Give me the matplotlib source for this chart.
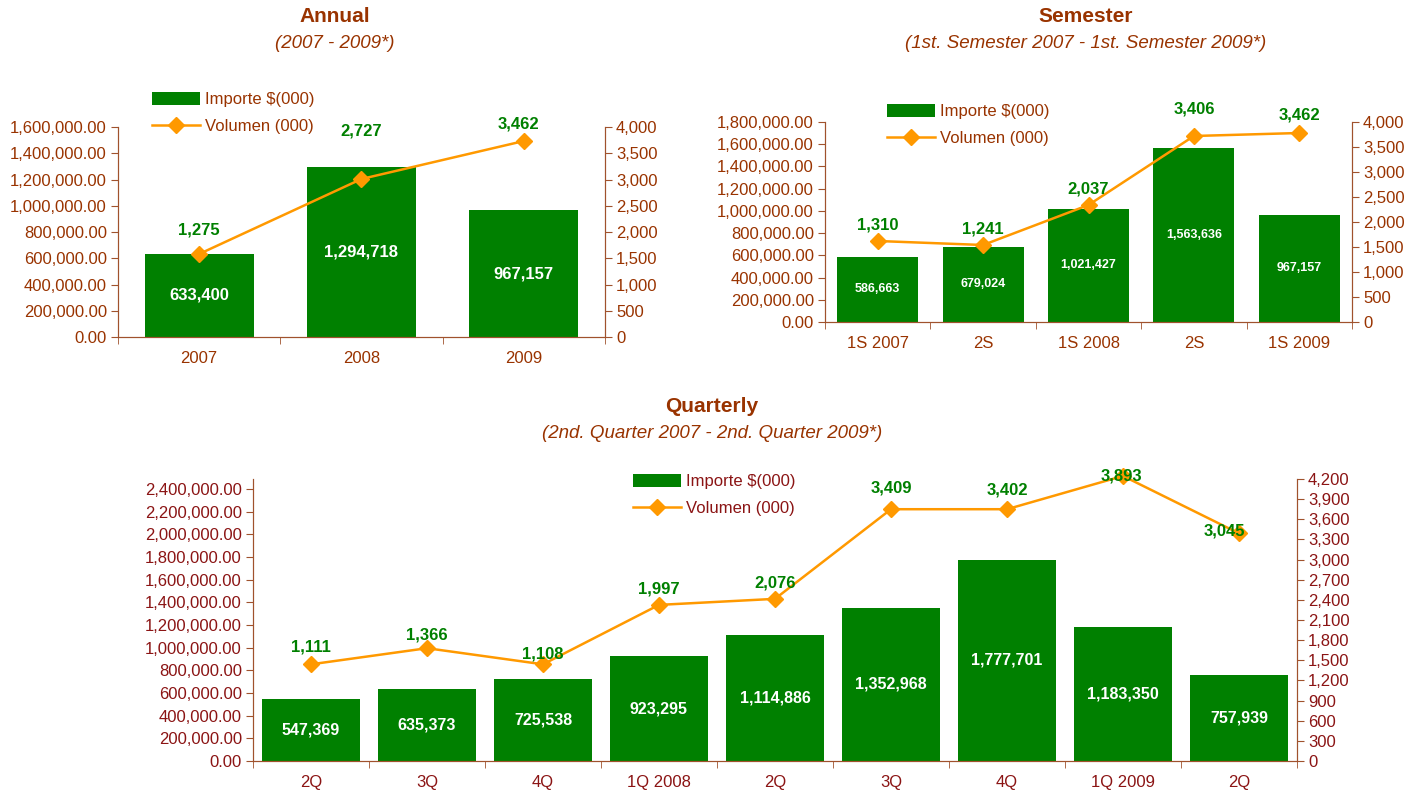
import matplotlib
matplotlib.use("Agg")
import matplotlib.pyplot as plt
from matplotlib.patches import Patch
from matplotlib.lines import Line2D
from matplotlib.ticker import FuncFormatter, MultipleLocator

plt.rcParams['font.family'] = ['Liberation Sans', 'DejaVu Sans']

# ---- data ----
annual_cats = ['2007', '2008', '2009']
annual_importe = [633400, 1294718, 967157]
annual_vol_pos = [1581, 3010, 3733]          # where the markers sit on the right axis
annual_vol_txt = ['1,275', '2,727', '3,462']  # printed data labels

sem_cats = ['1S 2007', '2S', '1S 2008', '2S', '1S 2009']
sem_importe = [586663, 679024, 1021427, 1563636, 967157]
sem_vol_pos = [1620, 1540, 2340, 3720, 3780]
sem_vol_txt = ['1,310', '1,241', '2,037', '3,406', '3,462']

q_cats = ['2Q', '3Q', '4Q', '1Q 2008', '2Q', '3Q', '4Q', '1Q 2009', '2Q']
q_importe = [547369, 635373, 725538, 923295, 1114886, 1352968, 1777701, 1183350, 757939]
q_vol_pos = [1440, 1680, 1440, 2325, 2415, 3750, 3750, 4245, 3390]
q_vol_txt = ['1,111', '1,366', '1,108', '1,997', '2,076', '3,409', '3,402', '3,893', '3,045']

GREEN = '#008000'
ORANGE = '#FF9900'
TITLE = '#993300'
SPINE = '#A0522D'

W, H = 1424, 794
fig = plt.figure(figsize=(W / 100, H / 100), dpi=100)


def px_axes(x0, x1, ytop, ybot):
    return fig.add_axes([x0 / W, 1 - ybot / H, (x1 - x0) / W, (ybot - ytop) / H])


def panel(rect, cats, importe, vol_pos, vol_txt, ymax, ystep, y2max, y2step,
          barw, barfs, offs, tickcol, left_ticks_max=None):
    ax = px_axes(*rect)
    n = len(cats)
    x = list(range(n))
    bars = ax.bar(x, importe, width=barw, color=GREEN, zorder=2)
    ax.bar_label(bars, labels=[f'{v:,}' for v in importe], label_type='center',
                 color='white', fontweight='bold', fontsize=barfs)
    ax.set_xlim(-0.5, n - 0.5)
    ax.set_ylim(0, ymax)
    top = left_ticks_max if left_ticks_max else ymax
    ax.set_yticks(range(0, int(top) + 1, ystep))
    ax.yaxis.set_major_formatter(FuncFormatter(lambda v, p: f'{v:,.2f}'))
    ax.set_xticks(x)
    ax.set_xticklabels(cats)
    ax.set_xticks([i - 0.5 for i in range(n + 1)], minor=True)
    ax.tick_params(axis='x', which='major', length=0, pad=10, labelsize=12, labelcolor=tickcol)
    ax.tick_params(axis='x', which='minor', length=5, color=SPINE, direction='out')
    ax.tick_params(axis='y', length=5, color=SPINE, labelsize=12, labelcolor=tickcol, pad=3)

    ax2 = ax.twinx()
    ax2.plot(x, vol_pos, color=ORANGE, lw=1.8, marker='D', markersize=8, zorder=3,
             clip_on=False)
    ax2.set_ylim(0, y2max)
    ax2.yaxis.set_major_locator(MultipleLocator(y2step))
    ax2.yaxis.set_major_formatter(FuncFormatter(lambda v, p: f'{v:,.0f}'))
    ax2.tick_params(axis='y', length=5, color=SPINE, labelsize=12, labelcolor=tickcol, pad=3)
    for i, (v, t) in enumerate(zip(vol_pos, vol_txt)):
        dx, dy = offs[i]
        ax2.annotate(t, (i, v), xytext=(dx, dy), textcoords='offset pixels',
                     ha='center', va='center', color=GREEN, fontweight='bold', fontsize=12,
                     annotation_clip=False, zorder=4)

    for a in (ax, ax2):
        a.spines['top'].set_visible(False)
        for s in ('left', 'right', 'bottom'):
            a.spines[s].set_color(SPINE)
    return ax, ax2


def legend(x, ytop, txtcol):
    handles = [Patch(facecolor=GREEN, edgecolor='none'),
               Line2D([], [], color=ORANGE, lw=1.8, marker='D', markersize=8)]
    fig.legend(handles, ['Importe $(000)', 'Volumen (000)'], loc='upper left',
               bbox_to_anchor=(x / W, 1 - ytop / H), frameon=False, borderpad=0,
               borderaxespad=0, handlelength=2.9, handleheight=0.8, handletextpad=0.3,
               labelspacing=0.7, fontsize=12, labelcolor=txtcol)


def titles(cx, y, t, sub):
    fig.text(cx / W, 1 - y / H, t, ha='center', va='center', fontsize=15,
             fontweight='bold', color=TITLE)
    fig.text(cx / W, 1 - (y + 27) / H, sub, ha='center', va='center', fontsize=13.5,
             style='italic', color=TITLE)


# Annual
panel((118, 605, 127, 337), annual_cats, annual_importe, annual_vol_pos, annual_vol_txt,
      1600000, 200000, 4000, 500, 0.67, 12,
      [(0, 24), (0, 48), (-5, 17)], TITLE)
titles(335, 17, 'Annual', '(2007 - 2009*)')
legend(152, 92, TITLE)

# Semester
panel((825, 1352, 122, 322), sem_cats, sem_importe, sem_vol_pos, sem_vol_txt,
      1800000, 200000, 4000, 500, 0.77, 9,
      [(0, 16), (0, 16), (0, 16), (0, 27), (0, 18)], TITLE)
titles(1086, 17, 'Semester', '(1st. Semester 2007 - 1st. Semester 2009*)')
legend(887, 104, TITLE)

# Quarterly
QCOL = '#8B1414'
panel((253, 1297, 479, 761), q_cats, q_importe, q_vol_pos, q_vol_txt,
      2490000, 200000, 4200, 300, 0.84, 11.5,
      [(0, 17), (0, 13), (0, 10), (0, 16), (0, 16), (0, 21), (0, 19), (-2, 0), (-15, 2)],
      QCOL, left_ticks_max=2400000)
titles(712, 406, 'Quarterly', '(2nd. Quarter 2007 - 2nd. Quarter 2009*)')
legend(633, 474, QCOL)

fig.savefig('out.png', dpi=100)
